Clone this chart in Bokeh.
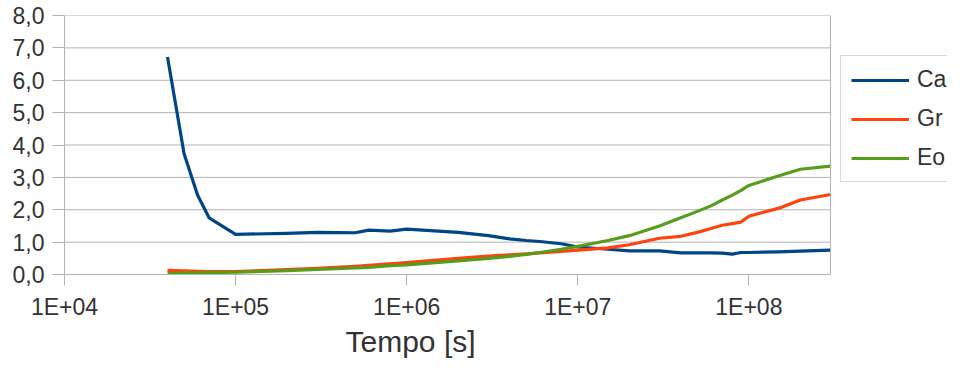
import math
from bokeh.plotting import figure
from bokeh.models import Range1d, FixedTicker, Legend, LegendItem, Title, Span
from bokeh.embed import file_html
from bokeh.resources import INLINE

# --- data ---
tempo = [4e4, 5e4, 6e4, 7e4, 1e5, 2e5, 3e5, 5e5, 6e5, 8e5, 1e6, 2e6, 3e6, 4e6, 5e6,
         6e6, 8e6, 1e7, 1.5e7, 2e7, 3e7, 4e7, 5e7, 6e7, 7e7, 8e7, 9e7, 1e8, 1.5e8, 2e8, 3e8]
ca = [6.72, 3.73, 2.45, 1.75, 1.24, 1.27, 1.30, 1.29, 1.37, 1.34, 1.40, 1.30, 1.20, 1.10, 1.05,
      1.02, 0.95, 0.85, 0.78, 0.73, 0.73, 0.67, 0.67, 0.67, 0.66, 0.63, 0.68, 0.68, 0.70, 0.72, 0.75]
gr = [0.13, 0.11, 0.10, 0.09, 0.09, 0.15, 0.19, 0.25, 0.28, 0.33, 0.37, 0.50, 0.57, 0.61, 0.64,
      0.67, 0.71, 0.75, 0.82, 0.92, 1.12, 1.18, 1.30, 1.42, 1.52, 1.57, 1.62, 1.80, 2.05, 2.30, 2.47]
eo = [0.03, 0.04, 0.05, 0.06, 0.07, 0.12, 0.16, 0.20, 0.22, 0.27, 0.30, 0.42, 0.50, 0.56, 0.62,
      0.68, 0.78, 0.87, 1.05, 1.20, 1.50, 1.75, 1.95, 2.12, 2.30, 2.45, 2.60, 2.75, 3.05, 3.25, 3.35]

series_names = ["Ca", "Gr", "Eo"]
series_colors = ["#004586", "#ff420e", "#579d1c"]

x_min, x_max = 1e4, 3e8
y_min, y_max = 0, 8
x_ticks = [1e4, 1e5, 1e6, 1e7, 1e8]
x_tick_labels = ["1E+04", "1E+05", "1E+06", "1E+07", "1E+08"]
y_ticks = [0, 1, 2, 3, 4, 5, 6, 7, 8]
y_tick_labels = ["0,0", "1,0", "2,0", "3,0", "4,0", "5,0", "6,0", "7,0", "8,0"]
x_title = "Tempo [s]"

FONT = "Liberation Sans"
TXT = "#333333"
GRID = "#b3b3b3"

# layout (pixels)
W, H = 947, 358
LEFT, TOP, BOTTOM = 64, 15, 84
PLOT_W = 766                     # width of the data area itself
FRAME_W = W - LEFT               # frame is widened so that the legend can live in it

# x range extended to the right so that x_max falls at PLOT_W
lo, hi = math.log10(x_min), math.log10(x_max)
x_end = 10 ** (lo + (hi - lo) * FRAME_W / PLOT_W)

p = figure(width=W, height=H, x_axis_type="log",
           x_range=Range1d(x_min, x_end), y_range=Range1d(y_min, y_max),
           output_backend="svg", toolbar_location=None,
           min_border_left=LEFT, min_border_right=0, min_border_top=TOP, min_border_bottom=BOTTOM)

p.outline_line_color = None
p.background_fill_color = "white"
p.border_fill_color = "white"

# horizontal grid lines, limited to the data area
p.segment(x0=[x_min] * len(y_ticks), x1=[x_max] * len(y_ticks), y0=y_ticks, y1=y_ticks,
          line_color=GRID, line_width=1)
# right border of the data area
p.add_layout(Span(location=x_max, dimension="height", line_color=GRID, line_width=1))

renderers = []
for ys, c in zip([ca, gr, eo], series_colors):
    r = p.line(tempo, ys, line_color=c, line_width=3.2, line_join="round")
    renderers.append(r)

# axes
p.xaxis.ticker = FixedTicker(ticks=x_ticks)
p.xaxis.major_label_overrides = dict(zip(x_ticks, x_tick_labels))
p.xaxis.bounds = (x_min, x_max)
p.yaxis.ticker = FixedTicker(ticks=y_ticks)
p.yaxis.major_label_overrides = dict(zip(y_ticks, y_tick_labels))

for ax in (p.xaxis[0], p.yaxis[0]):
    ax.axis_line_color = GRID
    ax.major_tick_line_color = GRID
    ax.minor_tick_line_color = None
    ax.major_tick_in = 0
    ax.major_label_text_font = FONT
    ax.major_label_text_font_size = "23px"
    ax.major_label_text_color = TXT
p.xaxis.major_tick_out = 11
p.xaxis.major_label_standoff = 8
p.yaxis.major_tick_out = 12
p.yaxis.major_label_standoff = 8

p.xgrid.grid_line_color = None
p.ygrid.grid_line_color = None

# x axis title (offset so that it is centred where the reference has it)
p.add_layout(Title(text=x_title, align="left", offset=281, standoff=0,
                   text_font=FONT, text_font_size="30px", text_font_style="normal",
                   text_color=TXT), "below")

legend = Legend(items=[LegendItem(label=n, renderers=[r]) for n, r in zip(series_names, renderers)],
                location=(776, 92))
legend.border_line_color = GRID
legend.border_line_width = 1
legend.background_fill_alpha = 1
legend.label_text_font = FONT
legend.label_text_font_size = "23px"
legend.label_text_color = TXT
legend.glyph_width = 58
legend.glyph_height = 24
legend.label_height = 24
legend.label_standoff = 8
legend.spacing = 12
legend.padding = 10
legend.margin = 0
p.add_layout(legend)

open("out.html", "w").write(file_html(p, INLINE))
